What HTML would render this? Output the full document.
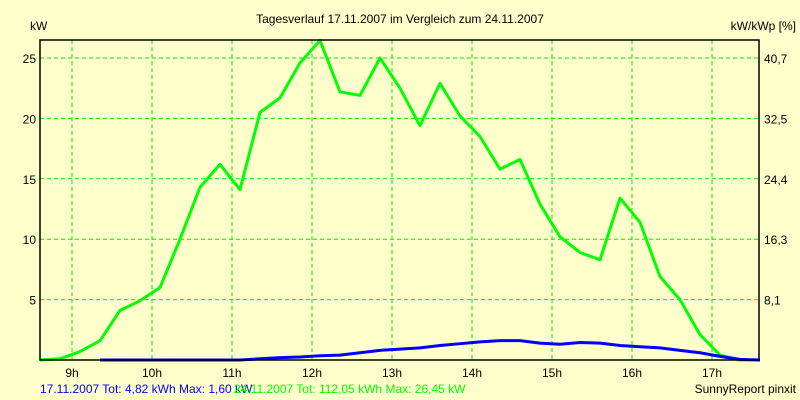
<!DOCTYPE html>
<html><head><meta charset="utf-8"><style>
body{margin:0;background:#ffffcc;}
svg{display:block;font-family:"Liberation Sans",sans-serif;font-size:12px;}
</style></head><body>
<svg width="800" height="400">
<rect x="0" y="0" width="800" height="400" fill="#ffffcc"/>
<text x="400" y="23" text-anchor="middle">Tagesverlauf 17.11.2007 im Vergleich zum 24.11.2007</text>
<text x="30" y="30">kW</text>
<text x="796" y="30" text-anchor="end">kW/kWp [%]</text>
<g id="grid"></g><g id="series"></g><g id="axes"></g>
<text x="40" y="393" fill="#0000ff">17.11.2007 Tot: 4,82 kWh Max: 1,60 kW</text>
<text x="234" y="393" fill="#00ff00">24.11.2007 Tot: 112,05 kWh Max: 26,45 kW</text>
<text x="796" y="393" text-anchor="end">SunnyReport pinxit</text>
</svg>
<script>
const hourTicks=[9,10,11,12,13,14,15,16,17];
const kwTicks=[5,10,15,20,25];
const pctLabels=["8,1","16,3","24,4","32,5","40,7"];
const startHour=8.6, stepHour=0.25;
const green=[0,0.1,0.7,1.6,4.1,4.9,6,10,14.3,16.2,14.1,20.5,21.7,24.6,26.45,22.2,21.9,25,22.5,19.4,22.9,20.2,18.5,15.8,16.6,12.9,10.2,8.9,8.3,13.4,11.4,6.9,5,2.1,0.4,0,0];
const blue=[null,null,null,0,0,0,0,0,0,0,0,0.1,0.2,0.25,0.35,0.4,0.6,0.8,0.9,1.0,1.2,1.35,1.5,1.6,1.6,1.4,1.3,1.45,1.4,1.2,1.1,1.0,0.8,0.6,0.3,0.05,0];
const L=40,R=759,T=40,B=360;
const xs=h=>L+(h-startHour)*80;
const ys=v=>B-v*12.08;
const NS="http://www.w3.org/2000/svg";
function mk(tag,attrs,parent){const e=document.createElementNS(NS,tag);for(const k in attrs)e.setAttribute(k,attrs[k]);parent.appendChild(e);return e;}
const grid=document.getElementById('grid'),ser=document.getElementById('series'),ax=document.getElementById('axes');
hourTicks.forEach(h=>{
 const l=mk('line',{x1:xs(h),x2:xs(h),y1:T,y2:B,stroke:'#00ee00','stroke-dasharray':'4,3'},grid);
 
 
 const t=mk('text',{x:xs(h),y:B+17,'text-anchor':'middle'},ax);t.textContent=h+'h';
 
 
});
kwTicks.forEach((v,i)=>{
 const l=mk('line',{x1:L,x2:R,y1:ys(v),y2:ys(v),stroke:'#00ee00','stroke-dasharray':'4,3'},grid);
 
 
 const t=mk('text',{x:L-4,y:ys(v)+5,'text-anchor':'end'},ax);t.textContent=v;
 
 
 const t2=mk('text',{x:R+5,y:ys(v)+5},ax);t2.textContent=pctLabels[i];
 
 
});
function line(arr,color,name){
 const pts=[];arr.forEach((v,i)=>{if(v!==null)pts.push(xs(startHour+i*stepHour)+','+ys(v));});
 const p=mk('polyline',{points:pts.join(' '),fill:'none',stroke:color,'stroke-width':3,'stroke-linejoin':'round'},ser);
 
 
}
line(green,'#00ff00','series-24-11-2007');
line(blue,'#0000ff','series-17-11-2007');
const f=mk('path',{d:`M${L},${T}H${R}V${B}H${L}Z`,fill:'none',stroke:'#000','stroke-width':1.5},ax);


</script>
</body></html>
